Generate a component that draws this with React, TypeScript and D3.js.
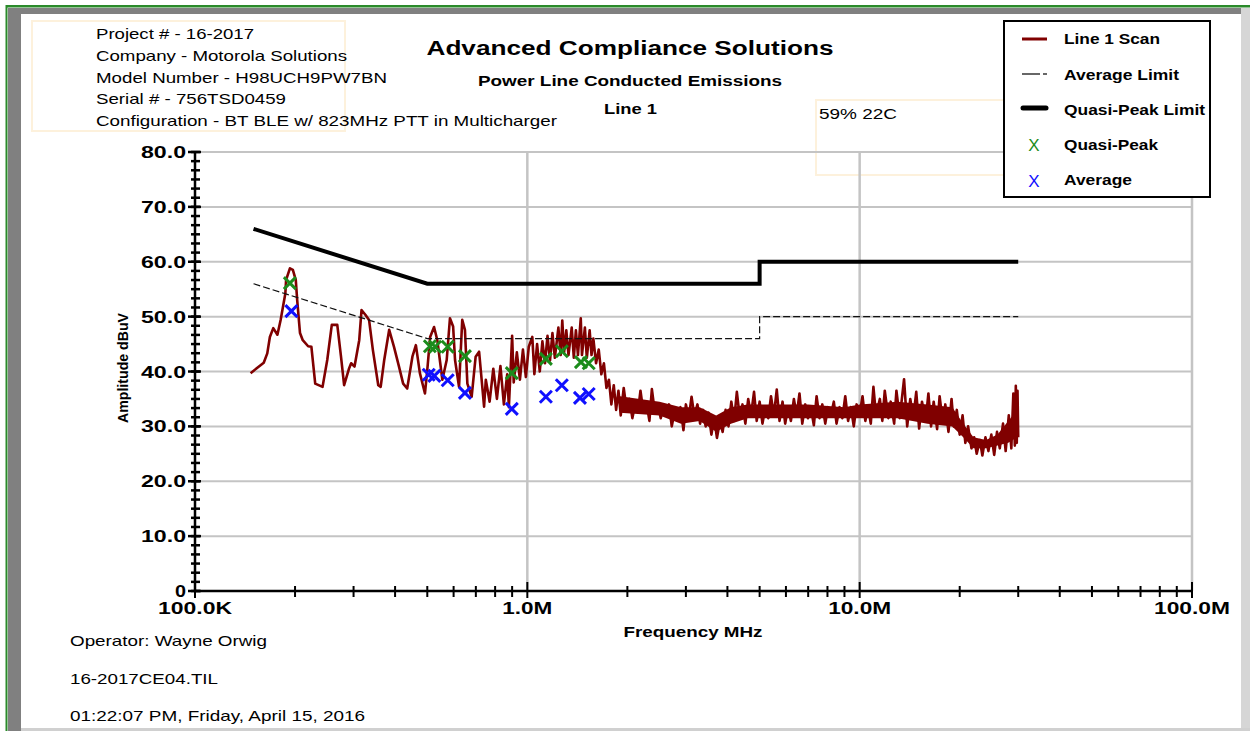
import * as d3 from "d3"

// Scan trace: [frequency MHz, level dBuV]
const scan: [number, number][] = [
  [0.147, 39.7], [0.161, 41.6], [0.165, 43.3], [0.168, 46.3], [0.172, 47.9], [0.177, 46.7], [0.181, 49.4],
  [0.187, 54.2], [0.188, 56.7], [0.193, 58.8], [0.197, 58.5], [0.201, 56.7], [0.203, 53.0], [0.207, 47.0],
  [0.211, 45.7], [0.219, 44.6], [0.224, 44.5], [0.23, 37.8], [0.242, 37.2], [0.25, 42.1], [0.258, 48.5],
  [0.268, 48.5], [0.275, 42.7], [0.281, 37.5], [0.291, 40.6], [0.295, 41.5], [0.302, 40.9], [0.312, 45.7],
  [0.317, 51.2], [0.326, 50.3], [0.334, 49.4], [0.343, 43.9], [0.356, 37.5], [0.362, 37.2], [0.371, 42.1],
  [0.384, 47.6], [0.397, 44.5], [0.411, 40.9], [0.423, 37.8], [0.435, 36.9], [0.451, 42.7], [0.462, 44.8],
  [0.475, 39.7], [0.492, 36.0], [0.5, 40.3], [0.51, 46.3], [0.524, 48.1], [0.536, 45.7], [0.555, 38.5],
  [0.572, 42.1], [0.585, 49.7], [0.598, 48.2], [0.606, 42.1], [0.623, 37.2], [0.637, 49.4], [0.649, 47.6],
  [0.66, 37.8], [0.68, 35.4], [0.699, 42.7], [0.716, 43.6], [0.741, 33.6],
  [0.75, 38.5], [0.77, 34.5], [0.79, 40.5], [0.81, 35.0], [0.83, 41.0], [0.85, 34.0], [0.87, 39.5],
  [0.88, 33.5], [0.9, 46.5], [0.91, 38.0], [0.93, 43.5], [0.95, 38.5], [0.97, 44.0], [0.99, 39.0],
  [1.01, 44.5], [1.035, 46.3], [1.05, 39.5], [1.07, 45.0], [1.09, 40.0], [1.11, 45.5], [1.13, 41.5],
  [1.15, 46.5], [1.17, 42.0], [1.19, 47.0], [1.21, 42.5], [1.24, 48.0], [1.26, 43.0], [1.274, 49.3],
  [1.29, 43.5], [1.31, 47.5], [1.33, 43.0], [1.36, 48.0], [1.38, 42.5], [1.4, 47.5], [1.42, 43.0],
  [1.448, 49.7], [1.46, 43.0], [1.49, 48.0], [1.51, 42.5], [1.54, 47.5], [1.56, 43.0], [1.58, 46.0],
  [1.61, 41.5], [1.64, 44.0], [1.67, 39.5], [1.7, 41.5], [1.73, 37.0], [1.76, 38.5], [1.79, 34.0],
  [1.82, 37.5], [1.85, 33.0],
  [1.88, 36.5], [1.91, 32.0], [1.95, 37.0], [1.99, 33.0], [2.03, 35.0], [2.07, 31.5], [2.11, 34.0],
  [2.15, 32.5], [2.19, 36.5], [2.23, 33.0], [2.28, 34.5], [2.33, 31.0], [2.37, 36.8], [2.42, 32.5],
  [2.47, 34.0], [2.52, 31.5], [2.57, 33.5], [2.62, 32.0], [2.67, 34.0], [2.72, 30.0], [2.78, 33.0],
  [2.83, 31.5], [2.89, 33.5], [2.95, 29.3], [3.0, 34.0], [3.06, 31.5], [3.12, 35.4], [3.18, 32.0],
  [3.25, 34.0], [3.31, 30.5], [3.38, 33.0], [3.44, 30.0], [3.51, 32.5], [3.58, 28.5], [3.65, 31.5],
  [3.72, 27.9], [3.8, 31.0], [3.87, 29.0], [3.95, 33.0], [4.03, 30.0], [4.11, 34.5], [4.19, 31.0],
  [4.27, 36.3], [4.36, 31.5], [4.44, 34.0], [4.53, 30.5], [4.62, 35.0], [4.71, 32.0], [4.81, 36.3],
  [4.9, 31.0], [5.0, 34.5], [5.1, 30.5], [5.2, 33.5], [5.31, 31.5], [5.41, 35.5], [5.52, 32.0],
  [5.63, 36.7], [5.74, 31.0], [5.86, 34.5], [5.97, 30.5], [6.09, 33.5], [6.21, 31.0], [6.34, 35.0],
  [6.46, 32.0], [6.59, 36.0], [6.72, 30.5], [6.86, 34.0], [6.99, 31.5], [7.13, 33.5], [7.28, 30.2],
  [7.42, 35.5], [7.57, 31.5], [7.72, 34.0], [7.88, 30.5], [8.03, 33.5], [8.19, 32.0], [8.36, 34.5],
  [8.52, 30.5], [8.7, 33.5], [8.87, 31.5], [9.05, 35.5], [9.23, 31.0], [9.41, 33.5], [9.6, 30.0],
  [9.79, 34.0], [9.99, 32.0], [10.2, 35.5], [10.4, 31.0], [10.6, 33.5], [10.8, 30.5], [11.0, 37.2],
  [11.2, 32.0], [11.5, 35.0], [11.7, 31.0], [11.9, 36.5], [12.2, 31.5], [12.4, 34.5], [12.7, 30.5],
  [12.9, 36.5], [13.2, 31.5], [13.6, 38.6], [13.9, 30.0], [14.2, 35.0], [14.5, 31.5], [14.8, 36.3],
  [15.1, 29.6], [15.4, 34.5], [15.8, 31.0], [16.1, 36.0], [16.4, 30.0], [16.7, 34.5], [17.1, 29.5],
  [17.4, 35.5], [17.8, 30.5], [18.1, 34.0], [18.5, 29.0], [18.9, 35.0], [19.2, 30.0], [19.6, 33.0],
  [20.0, 28.5], [20.4, 32.0], [20.8, 27.0], [21.2, 30.0], [21.7, 26.0], [22.1, 28.0], [22.5, 25.0],
  [23.0, 27.5], [23.4, 24.7], [23.9, 28.0], [24.4, 25.5], [24.9, 28.5], [25.4, 24.8], [25.9, 29.0],
  [26.4, 26.0], [27.0, 30.5], [27.5, 25.5], [28.1, 32.0], [28.6, 26.0], [29.0, 36.0], [29.3, 26.5],
  [29.5, 37.4], [29.7, 27.0], [29.85, 36.5], [30.0, 28.0],
]

// solid core of the noisy scan band above ~2 MHz
const coreMHz = [1.9, 2.5, 2.9, 3.3, 3.7, 4.1, 4.6, 5.5, 7.0, 9.0, 10, 13, 16, 19, 20.5, 22, 24, 26, 28, 29.8]
const coreLo = [32.5, 32.0, 30.5, 31.0, 29.0, 30.5, 31.5, 31.5, 31.5, 31.5, 31.5, 31.5, 30.5, 30.0, 28.0, 26.0, 26.0, 26.5, 27.0, 28.0]
const coreHi = [35.5, 34.5, 33.5, 33.5, 32.0, 33.5, 34.0, 34.0, 34.0, 33.5, 34.0, 34.5, 34.0, 33.5, 30.5, 28.0, 27.5, 28.5, 31.0, 33.0]

// limits
const limitMHz = [0.15, 0.5, 5, 5, 30]
const qpLimit = [66, 56, 56, 60, 60]
const avgLimit = [56, 46, 46, 50, 50]

// measured points
const qpMHz = [0.193, 0.509, 0.528, 0.576, 0.649, 0.898, 1.137, 1.27, 1.45, 1.53]
const qpDbuv = [56.1, 44.6, 44.5, 44.5, 42.8, 39.7, 42.3, 43.7, 41.7, 41.5]
const avgMHz = [0.195, 0.505, 0.525, 0.576, 0.649, 0.898, 1.137, 1.27, 1.44, 1.53]
const avgDbuv = [51.0, 39.4, 39.2, 38.4, 36.1, 33.2, 35.4, 37.5, 35.2, 35.9]

// axes
const yTicks = [0, 10, 20, 30, 40, 50, 60, 70, 80]
const yLabels = ["0", "10.0", "20.0", "30.0", "40.0", "50.0", "60.0", "70.0", "80.0"]
const xTicks = [0.1, 1, 10, 100]
const xLabels = ["100.0K", "1.0M", "10.0M", "100.0M"]

const infoLines = [
  "Project # - 16-2017",
  "Company - Motorola Solutions",
  "Model Number - H98UCH9PW7BN",
  "Serial # - 756TSD0459",
  "Configuration - BT BLE w/ 823MHz PTT in Multicharger",
]
const footerLines = ["Operator: Wayne Orwig", "16-2017CE04.TIL", "01:22:07 PM, Friday, April 15, 2016"]

const FONT = "'Liberation Sans', Arial, sans-serif"
const RED = "#800000"
const GREEN = "#1c8c1c"
const BLUE = "#1010ff"
const GRID = "#c4c4c4"

function T({ x, y, len, size = 15, bold = false, anchor = "start", fill = "#000", children, transform }: any) {
  return (
    <text
      x={x}
      y={y}
      textLength={len}
      lengthAdjust="spacingAndGlyphs"
      fontSize={size}
      fontWeight={bold ? "bold" : "normal"}
      textAnchor={anchor}
      fill={fill}
      fontFamily={FONT}
      transform={transform}
    >
      {children}
    </text>
  )
}

export default function App() {
  const x = d3.scaleLog().domain([0.1, 100]).range([195, 1192])
  const y = d3.scaleLinear().domain([0, 80]).range([591, 152])

  const line = d3
    .line<[number, number]>()
    .x((d) => x(d[0]))
    .y((d) => y(d[1]))

  const limitLine = d3
    .line<number>()
    .x((_, i) => x(limitMHz[i]))
    .y((d) => y(d))

  const coreArea = d3
    .area<number>()
    .x((d) => x(d))
    .y0((_, i) => y(coreLo[i]))
    .y1((_, i) => y(coreHi[i]))

  const minorX: number[] = []
  ;[0.1, 1, 10].forEach((dec) => d3.range(2, 10).forEach((k) => minorX.push(dec * k)))
  const minorY = d3.range(0, 80.001, 10 / 6)

  const cross = (cx: number, cy: number, r: number) =>
    `M${cx - r},${cy - r}L${cx + r},${cy + r}M${cx - r},${cy + r}L${cx + r},${cy - r}`

  const [x0, x1] = x.range()
  const [yb, yt] = y.range()

  return (
    <svg
      width={1250}
      height={731}
      style={{ position: "absolute", left: 0, top: 0, background: "#fff" }}
    >
      {/* window frame */}
      <rect x={0} y={0} width={1250} height={731} fill="#fff" />
      <rect x={6} y={5} width={1244} height={2.5} fill="#2a8a2a" />
      <rect x={5.5} y={5} width={2} height={726} fill="#2a8a2a" />
      <rect x={8} y={8} width={1233} height={6} fill="#808080" />
      <rect x={8} y={8} width={13} height={723} fill="#808080" />
      <rect x={1241} y={8} width={9} height={723} fill="#d6d6d6" />
      <rect x={21} y={728} width={1229} height={3} fill="#d0d0d0" />

      {/* faint text boxes */}
      <rect x={32} y={21} width={313} height={110} fill="none" stroke="#fdf1dc" strokeWidth={2} />
      <rect x={816} y={100} width={190} height={75} fill="none" stroke="#fdf1dc" strokeWidth={2} />

      {/* header text */}
      {infoLines.map((t, i) => (
        <T key={t} x={96} y={[39, 61, 83, 104, 126][i]} len={[158, 251, 291, 190, 461][i]} size={15}>
          {t}
        </T>
      ))}
      <T x={630} y={55} len={407} size={20} bold anchor="middle">
        Advanced Compliance Solutions
      </T>
      <T x={630} y={86} len={304} size={14} bold anchor="middle">
        Power Line Conducted Emissions
      </T>
      <T x={604} y={114} len={53} size={14} bold>
        Line 1
      </T>
      <T x={819} y={119} len={78} size={15}>
        59% 22C
      </T>

      {/* grid */}
      {yTicks.slice(1).map((v) => (
        <line key={"gy" + v} x1={x0} x2={x1} y1={y(v)} y2={y(v)} stroke={GRID} strokeWidth={2} />
      ))}
      {xTicks.slice(1).map((v) => (
        <line key={"gx" + v} x1={x(v)} x2={x(v)} y1={yt} y2={yb} stroke={GRID} strokeWidth={2.5} />
      ))}

      {/* scan */}
      <path d={coreArea(coreMHz) || ""} fill={RED} />
      <path d={line(scan) || ""} fill="none" stroke={RED} strokeWidth={2.6} strokeLinejoin="round" />

      {/* limits */}
      <path d={limitLine(avgLimit) || ""} fill="none" stroke="#111" strokeWidth={1.2} strokeDasharray="7,3" />
      <path d={limitLine(qpLimit) || ""} fill="none" stroke="#000" strokeWidth={4} />

      {/* measured points */}
      {qpMHz.map((f, i) => (
        <path key={"qp" + i} d={cross(x(f), y(qpDbuv[i]), 6)} stroke={GREEN} strokeWidth={3} fill="none" />
      ))}
      {avgMHz.map((f, i) => (
        <path key={"av" + i} d={cross(x(f), y(avgDbuv[i]), 6)} stroke={BLUE} strokeWidth={3} fill="none" />
      ))}

      {/* y axis */}
      <line x1={x0} x2={x0} y1={yt - 1} y2={yb + 1} stroke="#000" strokeWidth={2.5} />
      {minorY.map((v, i) => (
        <line key={"my" + i} x1={x0 - 4} x2={x0 + 5} y1={y(v)} y2={y(v)} stroke="#000" strokeWidth={2.5} />
      ))}
      {yTicks.map((v, i) => (
        <g key={"yt" + v}>
          <line x1={x0 - 7} x2={x0 + 6} y1={y(v)} y2={y(v)} stroke="#000" strokeWidth={2.5} />
          <T x={186} y={y(v) + 6} len={v === 0 ? 11 : 45} size={16} bold anchor="end">
            {yLabels[i]}
          </T>
        </g>
      ))}
      <T x={0} y={0} len={110} size={14} bold anchor="middle" transform="translate(128,368) rotate(-90)">
        Amplitude dBuV
      </T>

      {/* x axis */}
      <line x1={x0 - 1} x2={x1 + 1} y1={yb} y2={yb} stroke="#000" strokeWidth={2.5} />
      {minorX.map((v, i) => (
        <line key={"mx" + i} x1={x(v)} x2={x(v)} y1={yb - 5} y2={yb + 6} stroke="#000" strokeWidth={2} />
      ))}
      {xTicks.map((v, i) => (
        <g key={"xt" + v}>
          <line x1={x(v)} x2={x(v)} y1={yb - 9} y2={yb + 7} stroke="#000" strokeWidth={2} />
          <T x={x(v)} y={614} len={[74, 50, 63, 76][i]} size={16} bold anchor="middle">
            {xLabels[i]}
          </T>
        </g>
      ))}
      <T x={693} y={637} len={139} size={14} bold anchor="middle">
        Frequency MHz
      </T>

      {/* footer */}
      {footerLines.map((t, i) => (
        <T key={t} x={70} y={[646, 684, 721][i]} len={[197, 148, 295][i]} size={15}>
          {t}
        </T>
      ))}

      {/* legend */}
      <rect x={1004} y={21} width={206} height={176} fill="#fff" stroke="#000" strokeWidth={2} />
      <line x1={1022} x2={1047} y1={39} y2={39} stroke={RED} strokeWidth={3} />
      <line x1={1022} x2={1040} y1={74} y2={74} stroke="#000" strokeWidth={1.2} />
      <line x1={1043} x2={1047} y1={74} y2={74} stroke="#000" strokeWidth={1.2} />
      <line x1={1023} x2={1046} y1={108} y2={108} stroke="#000" strokeWidth={5} strokeLinecap="round" />
      <T x={1034} y={151} size={17} anchor="middle" fill={GREEN}>
        X
      </T>
      <T x={1034} y={187} size={17} anchor="middle" fill={BLUE}>
        X
      </T>
      {["Line 1 Scan", "Average Limit", "Quasi-Peak Limit", "Quasi-Peak", "Average"].map((t, i) => (
        <T key={t} x={1064} y={[44, 80, 115, 150, 185][i]} len={[96, 115, 141, 94, 68][i]} size={14} bold>
          {t}
        </T>
      ))}
    </svg>
  )
}
